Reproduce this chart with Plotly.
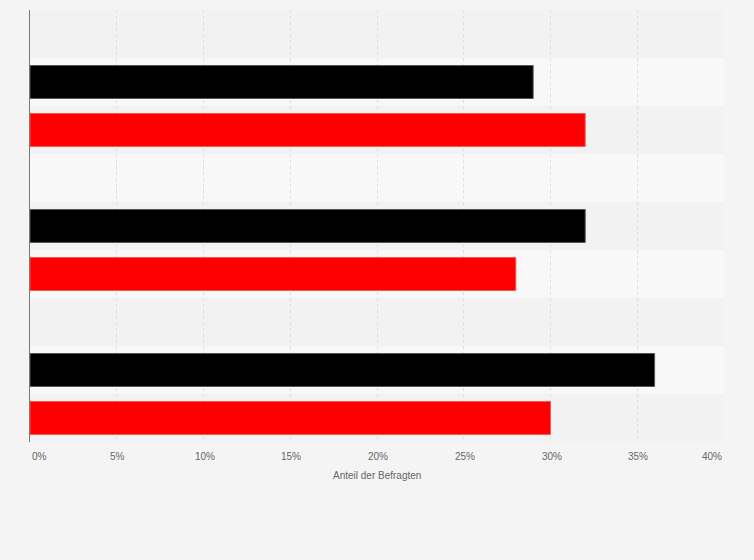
import plotly.graph_objects as go

categories = ["Gruppe 1", "Gruppe 2", "Gruppe 3"]
series_black = [29, 32, 36]
series_red = [32, 28, 30]
tick_values = [0, 5, 10, 15, 20, 25, 30, 35, 40]
tick_labels = ["0%", "5%", "10%", "15%", "20%", "25%", "30%", "35%", "40%"]
axis_title = "Anteil der Befragten"

BAR_W = 0.229
fig = go.Figure()
fig.add_trace(go.Bar(
    y=categories, x=series_black, orientation="h",
    width=BAR_W, offset=-BAR_W / 2,
    marker=dict(color="#000000", line=dict(color="#555555", width=1)),
    showlegend=False, hoverinfo="x",
))
fig.add_trace(go.Bar(
    y=categories, x=series_red, orientation="h",
    width=BAR_W, offset=1 / 3 - BAR_W / 2,
    marker=dict(color="#ff0000", line=dict(color="#ff5555", width=1)),
    showlegend=False, hoverinfo="x",
))

# alternating background bands (three per category)
shapes = []
k = 0
for i in range(len(categories)):
    for j in range(3):
        y0 = i - 0.5 + j / 3
        shapes.append(dict(
            type="rect", xref="paper", yref="y",
            x0=0, x1=1, y0=y0, y1=y0 + 1 / 3,
            fillcolor="#f2f2f2" if k % 2 == 0 else "#f8f8f8",
            line=dict(width=0), layer="below",
        ))
        k += 1

annotations = []
for v, t in zip(tick_values, tick_labels):
    if v == tick_values[0]:
        xa, xs = "left", 0
    elif v == tick_values[-1]:
        xa, xs = "right", 0
    else:
        xa, xs = "center", 1
    annotations.append(dict(
        x=v, y=0, xref="x", yref="paper", text=t, showarrow=False,
        xanchor=xa, yanchor="top", yshift=-7, xshift=xs,
        font=dict(family="Liberation Sans, Arial, sans-serif", size=10, color="#666666"),
    ))
annotations.append(dict(
    x=0.5, y=0, xref="paper", yref="paper", text=axis_title, showarrow=False,
    xanchor="center", yanchor="middle", yshift=-33,
    font=dict(family="Liberation Sans, Arial, sans-serif", size=10, color="#666666"),
))

fig.update_layout(
    width=754, height=560,
    margin=dict(l=30, r=30, t=10, b=118),
    paper_bgcolor="#f4f4f4", plot_bgcolor="#f4f4f4",
    barmode="overlay",
    shapes=shapes, annotations=annotations,
    xaxis=dict(range=[0, 40], tickvals=tick_values, showticklabels=False,
               showgrid=True, gridcolor="#dddddd", griddash="dot", gridwidth=1,
               zeroline=False, showline=False, fixedrange=True),
    yaxis=dict(type="category", categoryorder="array", categoryarray=categories,
               range=[2.5, -0.5], showticklabels=False, showgrid=False,
               zeroline=False, showline=True, linecolor="#777777", linewidth=1,
               fixedrange=True),
)

fig.write_html(
    "out.html",
    config={"displayModeBar": False},
    post_script="document.body.style.margin='0';document.body.style.background='#f4f4f4';",
)
